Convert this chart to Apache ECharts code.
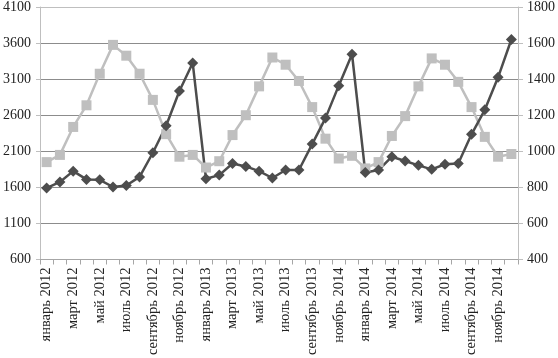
<!DOCTYPE html>
<html>
<head>
<meta charset="utf-8">
<script src="https://cdn.jsdelivr.net/npm/echarts@6/dist/echarts.min.js"></script>
<style>
  html, body { margin: 0; padding: 0; background: #fff; }
  #chart { width: 558px; height: 358px; }
</style>
</head>
<body>
<div id="chart"></div>
<script>
var months = ['январь', 'февраль', 'март', 'апрель', 'май', 'июнь',
  'июль', 'август', 'сентябрь', 'октябрь', 'ноябрь', 'декабрь'];
var years = ['2012', '2013', '2014'];
// tick labels as printed under the axis (every second month)
var tickLabels = ['январь 2012', 'март 2012', 'май 2012', 'июль 2012', 'сентябрь 2012', 'ноябрь 2012',
  'январь 2013', 'март 2013', 'май 2013', 'июль 2013', 'сентябрь 2013', 'ноябрь 2014',
  'январь 2014', 'март 2014', 'май 2014', 'июль 2014', 'сентябрь 2014', 'ноябрь 2014'];

var categories = [];
years.forEach(function (y) {
  months.forEach(function (m) { categories.push(m + ' ' + y); });
});

// dark series, left axis
var darkValues = [1590, 1675, 1825, 1710, 1705, 1605, 1625, 1745, 2080, 2455, 2935, 3325,
  1720, 1770, 1930, 1890, 1825, 1730, 1840, 1840, 2200, 2560, 3010, 3445,
  1805, 1840, 2025, 1965, 1905, 1850, 1920, 1930, 2335, 2675, 3125, 3650];
// light series, right axis
var lightValues = [940, 980, 1135, 1255, 1430, 1590, 1530, 1430, 1285, 1095, 970, 980,
  910, 945, 1090, 1200, 1360, 1520, 1480, 1390, 1245, 1070, 960, 975,
  905, 940, 1085, 1195, 1360, 1515, 1480, 1385, 1245, 1080, 970, 985];

var font = 'Liberation Serif';
var myChart = echarts.init(document.getElementById('chart'));
var option = {
  animation: false,
  grid: { left: 39, right: 40, top: 5, bottom: 95 },
  xAxis: {
    type: 'category',
    data: categories,
    boundaryGap: true,
    axisLine: { lineStyle: { color: '#a6a6a6', width: 1 } },
    axisTick: { show: true, interval: 0, length: 5, lineStyle: { color: '#a6a6a6' } },
    axisLabel: {
      interval: 1,
      rotate: 90,
      margin: 8,
      color: '#222',
      fontFamily: font,
      fontSize: 14.5,
      formatter: function (v, i) { return tickLabels[Math.floor(i / 2)]; }
    },
    splitLine: { show: false }
  },
  yAxis: [
    {
      type: 'value',
      min: 600, max: 4100, interval: 500,
      axisLine: { show: true, lineStyle: { color: '#bfbfbf' } },
      axisTick: { show: true, length: 4, lineStyle: { color: '#bfbfbf' } },
      axisLabel: { color: '#222', fontFamily: font, fontSize: 14, margin: 9, formatter: function (v) { return String(v); } },
      splitLine: { lineStyle: { color: ['#8c8c8c', '#8c8c8c', '#8c8c8c', '#8c8c8c', '#8c8c8c', '#8c8c8c', '#8c8c8c', '#bfbfbf'], width: 1 } }
    },
    {
      type: 'value',
      min: 400, max: 1800, interval: 200,
      axisLine: { show: true, lineStyle: { color: '#bfbfbf' } },
      axisTick: { show: true, length: 5, lineStyle: { color: '#bfbfbf' } },
      axisLabel: { color: '#222', fontFamily: font, fontSize: 14, margin: 9, formatter: function (v) { return String(v); } },
      splitLine: { show: false }
    }
  ],
  series: [
    {
      type: 'line',
      yAxisIndex: 1,
      data: lightValues,
      showAllSymbol: true,
      symbol: 'rect',
      symbolSize: 10,
      lineStyle: { color: '#bfbfbf', width: 2.5 },
      itemStyle: { color: '#bfbfbf' }
    },
    {
      type: 'line',
      yAxisIndex: 0,
      data: darkValues,
      showAllSymbol: true,
      symbol: 'diamond',
      symbolSize: 11,
      lineStyle: { color: '#4d4d4d', width: 2.5 },
      itemStyle: { color: '#4d4d4d' }
    }
  ]
};
myChart.setOption(option);
</script>
</body>
</html>
